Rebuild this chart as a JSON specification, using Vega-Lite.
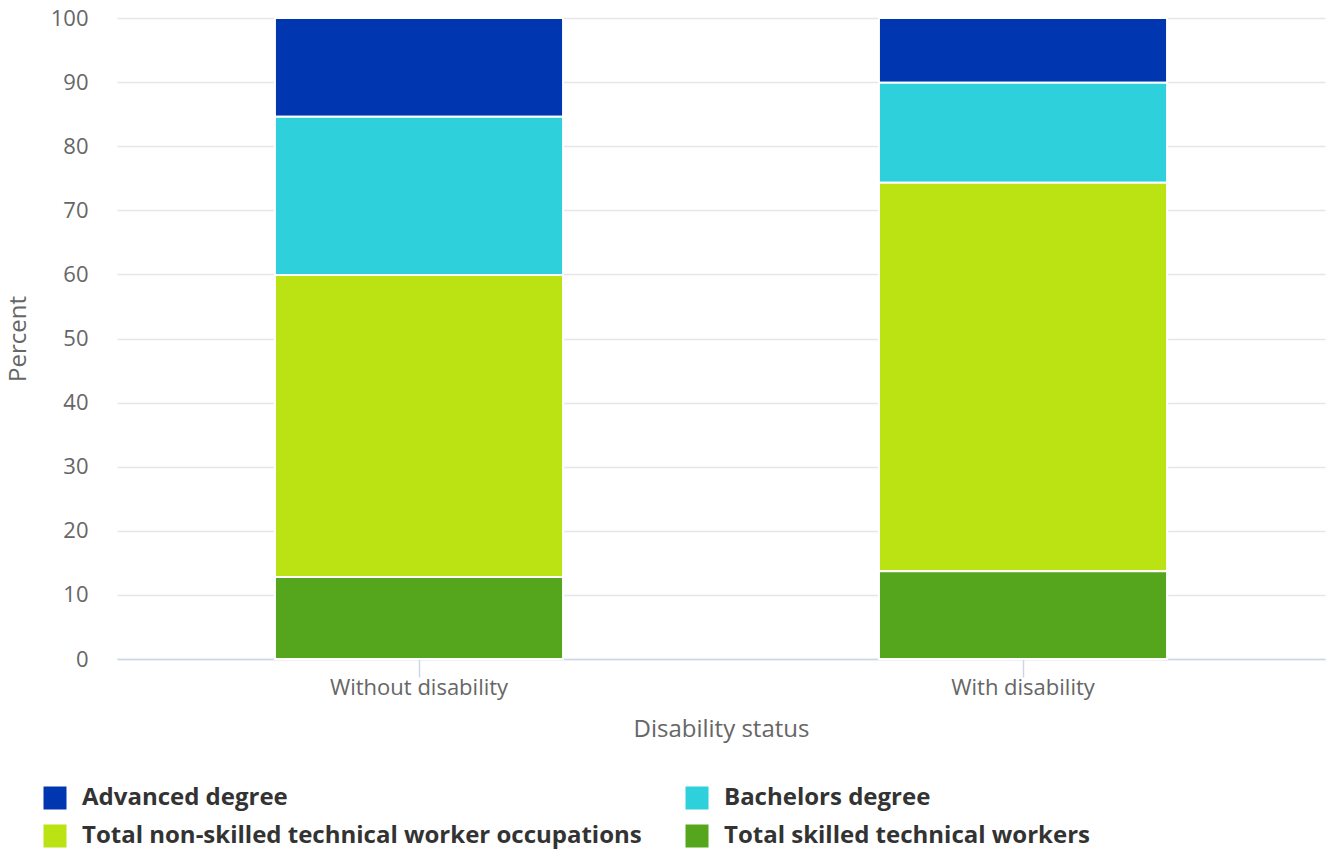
{
  "$schema": "https://vega.github.io/schema/vega-lite/v6.json",
  "autosize": {"type": "none"},
  "padding": {"left": 117, "top": 18, "right": 2, "bottom": 193},
  "width": 1208,
  "height": 641,
  "background": "white",
  "config": {
    "font": "Open Sans",
    "view": {"stroke": null}
  },
  "data": {
    "values": [
      {"status": "Without disability", "category": "Advanced degree", "percent": 15.4},
      {"status": "Without disability", "category": "Bachelors degree", "percent": 24.7},
      {"status": "Without disability", "category": "Total non-skilled technical worker occupations", "percent": 47.1},
      {"status": "Without disability", "category": "Total skilled technical workers", "percent": 12.8},
      {"status": "With disability", "category": "Advanced degree", "percent": 10.1},
      {"status": "With disability", "category": "Bachelors degree", "percent": 15.6},
      {"status": "With disability", "category": "Total non-skilled technical worker occupations", "percent": 60.6},
      {"status": "With disability", "category": "Total skilled technical workers", "percent": 13.7}
    ]
  },
  "mark": {"type": "bar", "stroke": "white", "strokeWidth": 2},
  "encoding": {
    "x": {
      "field": "status",
      "type": "nominal",
      "sort": ["Without disability", "With disability"],
      "scale": {"paddingInner": 0.523, "paddingOuter": 0.2615},
      "axis": {
        "title": "Disability status",
        "titleFontSize": 24,
        "titleFontWeight": "normal",
        "titleColor": "#666666",
        "titlePadding": 19,
        "labelAngle": 0,
        "labelFontSize": 22,
        "labelColor": "#666666",
        "labelPadding": 0,
        "domainColor": "#ccd6eb",
        "domainWidth": 1.5,
        "tickColor": "#ccd6eb",
        "tickWidth": 1.5,
        "tickSize": 18,
        "grid": false
      }
    },
    "y": {
      "field": "percent",
      "type": "quantitative",
      "stack": "zero",
      "scale": {"domain": [0, 100], "nice": false},
      "axis": {
        "title": "Percent",
        "titleFontSize": 24,
        "titleFontWeight": "normal",
        "titleColor": "#666666",
        "titlePadding": 20,
        "labelFontSize": 22,
        "labelColor": "#666666",
        "labelPadding": 29,
        "values": [0, 10, 20, 30, 40, 50, 60, 70, 80, 90, 100],
        "ticks": false,
        "domain": false,
        "gridColor": "#e6e6e6",
        "gridWidth": 1.5
      }
    },
    "color": {
      "field": "category",
      "type": "nominal",
      "scale": {
        "domain": ["Advanced degree", "Bachelors degree", "Total non-skilled technical worker occupations", "Total skilled technical workers"],
        "range": ["#0036b0", "#2ed1db", "#bbe313", "#55a61c"]
      },
      "legend": {
        "title": null,
        "orient": "none",
        "legendX": -74,
        "legendY": 768,
        "direction": "horizontal",
        "columns": 2,
        "symbolType": "square",
        "symbolSize": 529,
        "symbolStrokeWidth": 0,
        "symbolOpacity": 1,
        "labelFontSize": 24,
        "labelFontWeight": "bold",
        "labelColor": "#333333",
        "labelOffset": 15,
        "labelLimit": 800,
        "rowPadding": 14,
        "columnPadding": 43
      }
    },
    "order": {"field": "category", "sort": "descending"}
  }
}
